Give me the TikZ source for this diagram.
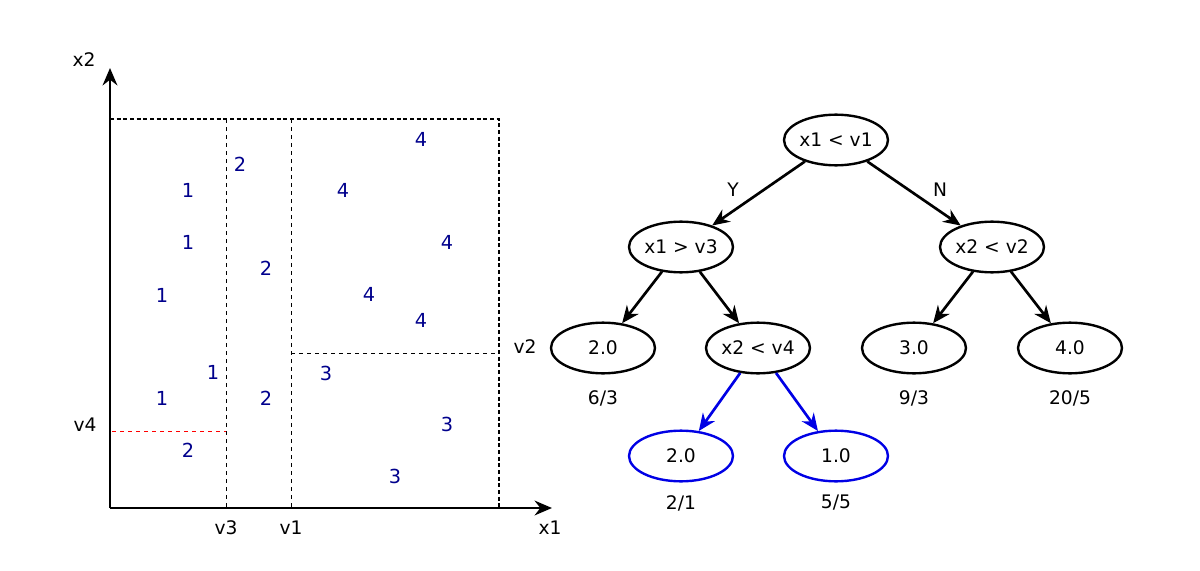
\documentclass[tikz,border=0pt]{standalone}
\usepackage{fontspec}
\setmainfont{DejaVu Sans}
\usetikzlibrary{shapes.geometric,arrows.meta}
\tikzset{every picture/.style={line width=0.75pt}}
\tikzset{
  split/.style={ellipse,draw,line width=1.8pt,minimum width=78pt,minimum height=38pt,inner sep=0pt,font=\fontsize{14}{16}\selectfont},
  leafb/.style={split,draw=blue!90!black},
  pt/.style={text=blue!55!black,font=\fontsize{14.5}{16}\selectfont},
  lbl/.style={font=\fontsize{14}{16}\selectfont},
  edge/.style={-{Stealth[length=13pt,width=11pt]},line width=2pt},
}
\begin{document}
\begin{tikzpicture}[x=0.75pt,y=0.75pt,yscale=-1,xscale=1]
\useasboundingbox (0,0) rectangle (1200,571);

%Axes
\draw [edge] (110,508) -- (110,68) ;
\draw [edge] (110,508) -- (552,508) ;
%Region box
\draw [dash pattern=on 3pt off 2pt,line width=1.8pt] (110,119) -- (499,119) -- (499,508) ;
\draw [dashed,line width=0.75pt] (226,119) -- (226,508) ;
\draw [dashed,line width=0.75pt] (291,119) -- (291,508) ;
\draw [dashed,line width=0.75pt] (291,353) -- (499,353) ;
\draw [dashed,line width=0.75pt,red] (112,431) -- (226,431) ;

% Axis labels
\node [lbl] (lx2) at (84,60) {x2};
\node [lbl] (lx1) at (550,528) {x1};
\node [lbl] (lv3) at (226,528) {v3};
\node [lbl] (lv1) at (291,528) {v1};
\node [lbl] (lv4) at (85,425) {v4};
\node [lbl] (lv2) at (525,347) {v2};

% Points
\foreach \px/\py/\c in {188/190/1,188/242/1,162/295/1,213/372/1,162/398/1,
  240/164/2,266/268/2,266/398/2,188/450/2,
  421/139/4,343/190/4,447/242/4,369/294/4,421/320/4,
  326/373/3,447/424/3,395/476/3}
  \node [pt] at (\px,\py) {\c};

% Tree
\node [split] (root) at (836,140) {x1 < v1};
\node [split] (nl) at (681,247) {x1 > v3};
\node [split] (nr) at (992,247) {x2 < v2};
\node [split] (lfa) at (603,348) {2.0};
\node [split] (nlr) at (758,348) {x2 < v4};
\node [split] (lfc) at (914,348) {3.0};
\node [split] (lfd) at (1070,348) {4.0};
\node [leafb] (lfe) at (681,456) {2.0};
\node [leafb] (lff) at (836,456) {1.0};

\draw [edge] (root) -- (nl) ;
\draw [edge] (root) -- (nr) ;
\draw [edge] (nl) -- (lfa) ;
\draw [edge] (nl) -- (nlr) ;
\draw [edge] (nr) -- (lfc) ;
\draw [edge] (nr) -- (lfd) ;
\draw [edge,blue!90!black] (nlr) -- (lfe) ;
\draw [edge,blue!90!black] (nlr) -- (lff) ;

% Text Node
\node [lbl] (ly) at (733,190) {Y};
\node [lbl] (ln) at (940,190) {N};
\node [lbl] (ca) at (603,398) {6/3};
\node [lbl] (cc) at (914,398) {9/3};
\node [lbl] (cd) at (1070,398) {20/5};
\node [lbl] (ce) at (681,503) {2/1};
\node [lbl] (cf) at (836,503) {5/5};

\end{tikzpicture}
\end{document}
